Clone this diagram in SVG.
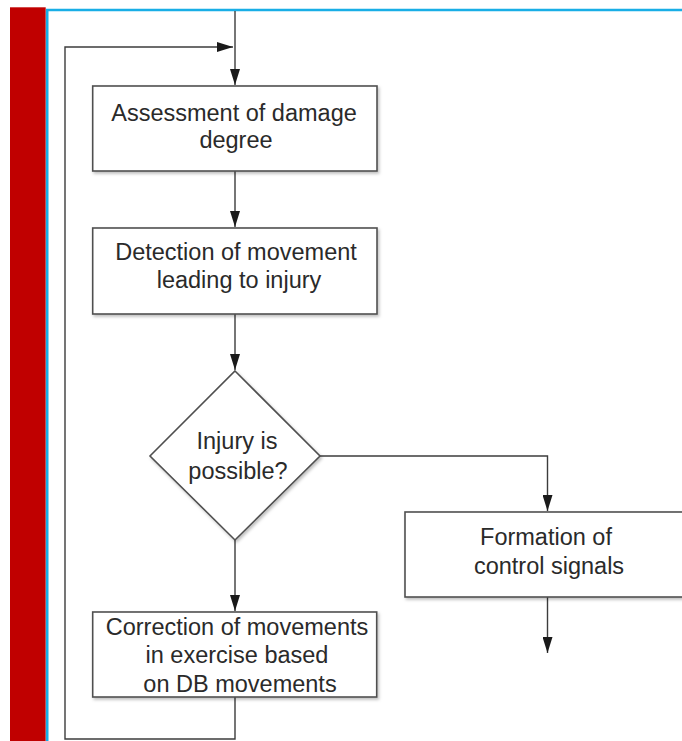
<svg xmlns="http://www.w3.org/2000/svg" width="682" height="741" viewBox="0 0 682 741">
  <style>
    .box { fill: #ffffff; stroke: #505050; stroke-width: 1.6; filter: url(#shadow); }
    .lbl { font-family: "Liberation Sans", Arial, sans-serif; font-size: 23.5px; fill: #2a2a2a; text-anchor: middle; }
    .conn { fill: none; stroke: #3c3c3c; stroke-width: 1.4; }
  </style>
  <defs>
    <marker id="arrow" viewBox="0 0 16 10" refX="16" refY="5" markerWidth="16" markerHeight="10" markerUnits="userSpaceOnUse" orient="auto">
      <path d="M0,0 L16,5 L0,10 z" fill="#1a1a1a"/>
    </marker>
    <filter id="shadow" x="-10%" y="-10%" width="125%" height="130%">
      <feDropShadow dx="1.5" dy="2" stdDeviation="1.5" flood-color="#000000" flood-opacity="0.25"/>
    </filter>
  </defs>

  <rect x="0" y="0" width="682" height="741" fill="#ffffff"/>

  <!-- frame -->
  <g id="frame">
    <rect x="10" y="7.3" width="35.7" height="734" fill="#c00000"/>
    <path d="M47.2,741 V10 H682" fill="none" stroke="#19aee6" stroke-width="2.6"/>
  </g>

  <!-- connectors -->
  <g id="connectors">
    <path class="conn" d="M235,11 V85" marker-end="url(#arrow)"/>
    <path class="conn" d="M235,697 V739 H65 V47 H233" marker-end="url(#arrow)"/>
    <path class="conn" d="M235,171 V227" marker-end="url(#arrow)"/>
    <path class="conn" d="M235,314 V370" marker-end="url(#arrow)"/>
    <path class="conn" d="M235,540 V611" marker-end="url(#arrow)"/>
    <path class="conn" d="M320,456 H547.5 V511" marker-end="url(#arrow)"/>
    <path class="conn" d="M547.5,597 V653" marker-end="url(#arrow)"/>
  </g>

  <g id="node-assessment">
    <rect class="box" x="92.7" y="86" width="284.3" height="85"/>
    <text class="lbl" x="234" y="121">Assessment of damage</text>
    <text class="lbl" x="236" y="148">degree</text>
  </g>

  <g id="node-detection">
    <rect class="box" x="92.7" y="228" width="284.3" height="86"/>
    <text class="lbl" x="236" y="260">Detection of movement</text>
    <text class="lbl" x="239" y="288">leading to injury</text>
  </g>

  <g id="node-decision">
    <polygon class="box" points="235,371 320,456 235,540 150,456"/>
    <text class="lbl" x="237" y="449">Injury is</text>
    <text class="lbl" x="238" y="479">possible?</text>
  </g>

  <g id="node-formation">
    <rect class="box" x="405" y="512" width="290" height="85"/>
    <text class="lbl" x="546" y="545">Formation of</text>
    <text class="lbl" x="549" y="574">control signals</text>
  </g>

  <g id="node-correction">
    <rect class="box" x="92.7" y="612" width="284" height="85"/>
    <text class="lbl" x="237" y="635">Correction of movements</text>
    <text class="lbl" x="237" y="663">in exercise based</text>
    <text class="lbl" x="240" y="692">on DB movements</text>
  </g>
</svg>
